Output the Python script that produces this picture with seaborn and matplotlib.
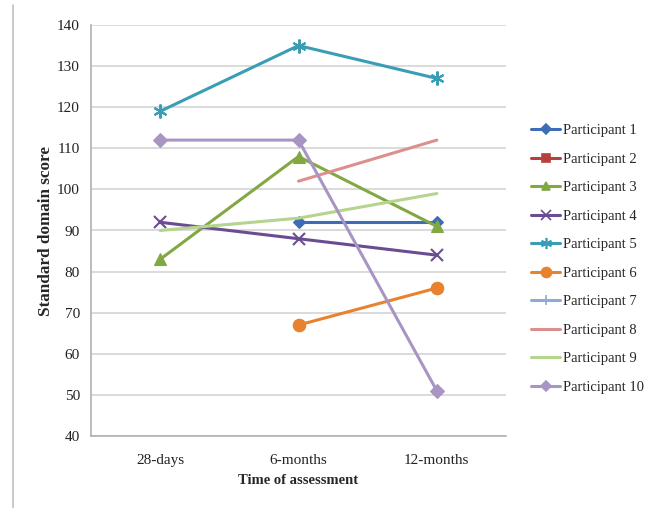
import numpy as np
import pandas as pd
import matplotlib
matplotlib.use("Agg")
import matplotlib.pyplot as plt
import seaborn as sns
from matplotlib.lines import Line2D

categories = ["28-days", "6-months", "12-months"]
participants = [f"Participant {i}" for i in range(1, 11)]
p1 = [np.nan, 92, 92]
p2 = [np.nan, np.nan, np.nan]
p3 = [83, 108, 91]
p4 = [92, 88, 84]
p5 = [119, 135, 127]
p6 = [np.nan, 67, 76]
p7 = [np.nan, np.nan, np.nan]
p8 = [np.nan, 102, 112]
p9 = [90, 93, 99]
p10 = [112, 112, 51]
series = [p1, p2, p3, p4, p5, p6, p7, p8, p9, p10]

colors = ["#3D6DB5", "#B5403D", "#82A844", "#6A4C93", "#3A9DB6",
          "#E8822E", "#90A9D6", "#DB908E", "#B5D48E", "#A895C4"]
markers = ["D", "s", "^", "x", (6, 2, 0), "o", "+", None, None, "D"]
msizes = [6, 7, 8, 9, 10, 9, 9, 0, 0, 7]

rows = []
for name, vals in zip(participants, series):
    for i, v in enumerate(vals):
        rows.append({"participant": name, "pos": i, "time": categories[i], "score": v})
df = pd.DataFrame(rows)

sns.set_theme(style="white")
plt.rcParams["font.family"] = ["Liberation Serif", "DejaVu Serif"]

fig = plt.figure(figsize=(6.62, 5.08), dpi=100)
ax = fig.add_axes([91 / 662, 1 - 436 / 508, (506 - 91) / 662, (436 - 25) / 508])

handles = []
for name, col, mk, ms in zip(participants, colors, markers, msizes):
    sub = df[df["participant"] == name].dropna(subset=["score"])
    if len(sub):
        sns.lineplot(data=sub, x="pos", y="score", ax=ax, color=col, lw=2.2,
                     marker=mk if mk is not None else None, markersize=ms,
                     markeredgecolor=col, markeredgewidth=1.5 if mk in ("x", "+", (6, 2, 0)) else 0.8,
                     legend=False, zorder=3)
    handles.append(Line2D([0], [0], color=col, lw=2.2,
                          marker=mk if mk is not None else "",
                          markersize=ms * 0.8, markeredgecolor=col,
                          markeredgewidth=1.2))

ax.set_xlim(-0.5, 2.5)
ax.set_ylim(40, 140)
ax.set_yticks(range(40, 141, 10))
ax.set_xticks(range(len(categories)))
ax.set_xticklabels(categories)
ax.yaxis.grid(True, color="#D4D4D4", lw=1.2)
ax.set_axisbelow(True)
for s in ["top", "right"]:
    ax.spines[s].set_visible(False)
for s in ["left", "bottom"]:
    ax.spines[s].set_color("#B0B0B0")
    ax.spines[s].set_linewidth(1.2)
ax.tick_params(axis="both", length=0, labelsize=11, colors="#222222")
ax.tick_params(axis="y", pad=8)
ax.tick_params(axis="x", pad=13)
ax.set_xlabel("Time of assessment", fontsize=10.5, fontweight="bold", labelpad=5)
ax.set_ylabel("Standard domain score", fontsize=12.3, fontweight="bold", labelpad=2)

fig.legend(handles, participants, loc="center left",
           bbox_to_anchor=(524 / 662, 1 - 259 / 508), frameon=False,
           fontsize=10.5, handlelength=2.0, handletextpad=0.2,
           labelspacing=1.05, borderpad=0)

fig.add_artist(Line2D([13 / 662, 13 / 662], [0, 1 - 5 / 508],
                      transform=fig.transFigure, color="#C0C0C0", lw=1.2))

fig.savefig("out.png", dpi=100)
